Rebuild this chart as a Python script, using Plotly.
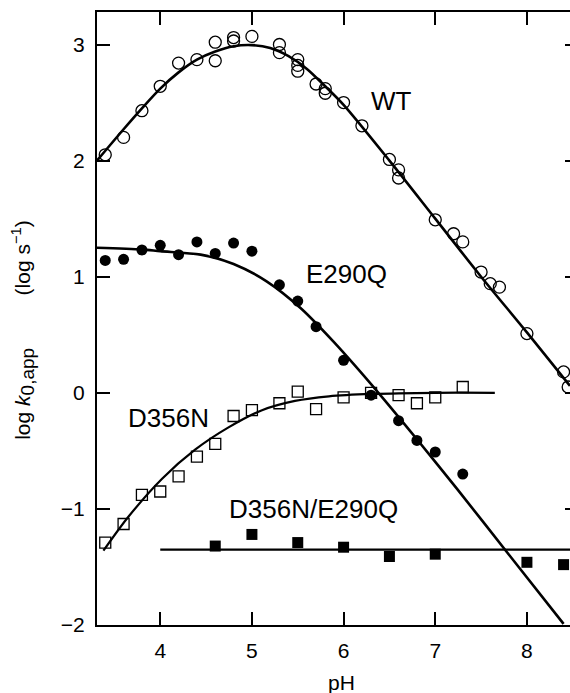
import plotly.graph_objects as go

# ---- data ----
wt_ph = [3.4, 3.6, 3.8, 4.0, 4.2, 4.4, 4.6, 4.6, 4.8, 4.8, 5.0, 5.3, 5.3, 5.5, 5.5, 5.5,
         5.7, 5.8, 5.8, 6.0, 6.2, 6.5, 6.6, 6.6, 7.0, 7.2, 7.3, 7.5, 7.6, 7.7, 8.0, 8.4, 8.45]
wt_log = [2.05, 2.20, 2.43, 2.64, 2.84, 2.87, 3.02, 2.86, 3.06, 3.03, 3.07, 3.00, 2.93, 2.87, 2.82, 2.77,
          2.66, 2.62, 2.58, 2.50, 2.30, 2.01, 1.92, 1.85, 1.49, 1.37, 1.30, 1.04, 0.94, 0.91, 0.51, 0.18, 0.05]

e290q_ph = [3.4, 3.6, 3.8, 4.0, 4.2, 4.4, 4.6, 4.8, 5.0, 5.3, 5.5, 5.7, 6.0, 6.3, 6.6, 6.8, 7.0, 7.3]
e290q_log = [1.14, 1.15, 1.23, 1.27, 1.19, 1.30, 1.20, 1.29, 1.22, 0.93, 0.79, 0.57, 0.28, -0.02,
             -0.24, -0.41, -0.51, -0.70]

d356n_ph = [3.4, 3.6, 3.8, 4.0, 4.2, 4.4, 4.6, 4.8, 5.0, 5.3, 5.5, 5.7, 6.0, 6.3, 6.6, 6.8, 7.0, 7.3]
d356n_log = [-1.29, -1.13, -0.88, -0.85, -0.72, -0.55, -0.44, -0.20, -0.15, -0.09, 0.01, -0.14,
             -0.04, 0.00, -0.02, -0.09, -0.04, 0.05]

dbl_ph = [4.6, 5.0, 5.5, 6.0, 6.5, 7.0, 8.0, 8.4]
dbl_log = [-1.32, -1.22, -1.29, -1.33, -1.41, -1.39, -1.46, -1.48]

# fitted curves
wt_fit_ph = [3.31, 3.6, 3.8, 4.0, 4.2, 4.4, 4.6, 4.8, 5.0, 5.2, 5.4, 5.6, 5.8, 6.0, 6.5, 7.0, 7.5, 8.0, 8.47]
wt_fit_log = [2.00, 2.27, 2.45, 2.62, 2.76, 2.87, 2.94, 2.985, 2.995, 2.97, 2.90, 2.79, 2.64, 2.48,
              2.00, 1.50, 1.00, 0.52, 0.06]

e290q_fit_ph = [3.31, 3.8, 4.0, 4.44, 4.8, 5.16, 5.53, 5.89, 6.38, 6.8, 7.24, 7.8, 8.4]
e290q_fit_log = [1.25, 1.235, 1.22, 1.19, 1.11, 0.96, 0.73, 0.44, 0.0, -0.40, -0.83, -1.39, -1.99]

d356n_fit_ph = [3.38, 3.65, 4.02, 4.38, 4.74, 5.11, 5.47, 5.84, 6.31, 7.0, 7.65]
d356n_fit_log = [-1.36, -1.07, -0.74, -0.49, -0.30, -0.15, -0.07, -0.03, -0.01, 0.0, 0.0]

dbl_fit_ph = [4.0, 8.47]
dbl_fit_log = [-1.35, -1.35]

x_ticks = [4, 5, 6, 7, 8]
y_ticks = [-2, -1, 0, 1, 2, 3]
y_ticktext = ["\u22122", "\u22121", "0", "1", "2", "3"]

labels = [("WT", 6.52, 2.51), ("E290Q", 6.03, 1.02), ("D356N", 4.09, -0.22), ("D356N/E290Q", 5.67, -1.0)]

FONT = "Liberation Sans, Arial, Helvetica, sans-serif"

fig = go.Figure()

line_style = dict(color="black", width=2.6)
for xs, ys in [(wt_fit_ph, wt_fit_log), (e290q_fit_ph, e290q_fit_log)]:
    fig.add_trace(go.Scatter(x=xs, y=ys, mode="lines", line=dict(line_style, shape="spline", smoothing=0.8),
                             showlegend=False, hoverinfo="skip"))
fig.add_trace(go.Scatter(x=d356n_fit_ph, y=d356n_fit_log, mode="lines",
                         line=dict(color="black", width=2.2, shape="spline", smoothing=0.8),
                         showlegend=False, hoverinfo="skip"))
fig.add_trace(go.Scatter(x=dbl_fit_ph, y=dbl_fit_log, mode="lines",
                         line=dict(color="black", width=2.2), showlegend=False, hoverinfo="skip"))

fig.add_trace(go.Scatter(x=wt_ph, y=wt_log, mode="markers",
                         marker=dict(symbol="circle-open", size=12, color="black", line=dict(width=1.3)),
                         showlegend=False))
fig.add_trace(go.Scatter(x=e290q_ph, y=e290q_log, mode="markers",
                         marker=dict(symbol="circle", size=11, color="black"), showlegend=False))
fig.add_trace(go.Scatter(x=d356n_ph, y=d356n_log, mode="markers",
                         marker=dict(symbol="square-open", size=11, color="black", line=dict(width=1.3)),
                         showlegend=False))
fig.add_trace(go.Scatter(x=dbl_ph, y=dbl_log, mode="markers",
                         marker=dict(symbol="square", size=11, color="black"), showlegend=False))

# helper trace for the right-hand tick axis
fig.add_trace(go.Scatter(x=[5], y=[0], yaxis="y2", mode="markers", marker=dict(size=0, opacity=0),
                         showlegend=False, hoverinfo="skip"))

for txt, x, y in labels:
    fig.add_annotation(x=x, y=y, text=txt, showarrow=False, xanchor="center", yanchor="middle",
                       font=dict(family=FONT, size=26, color="black"))

nb = "&nbsp;" * 9
fig.add_annotation(xref="paper", yref="paper", x=-0.158, y=0.482, textangle=-90,
                   text="log <i>k</i><sub><span style='font-size:19px'>0,app</span></sub>" + nb
                        + "(log s<sup>\u22121</sup>)",
                   showarrow=False, xanchor="center", yanchor="middle",
                   font=dict(family=FONT, size=21, color="black"))
fig.add_annotation(xref="paper", yref="paper", x=0.516, y=-0.0946, text="pH",
                   showarrow=False, xanchor="center", yanchor="middle",
                   font=dict(family=FONT, size=21, color="black"))

fig.update_layout(
    width=570, height=693,
    margin=dict(l=97, r=0, t=12, b=68),
    paper_bgcolor="white", plot_bgcolor="white",
    font=dict(family=FONT, size=21, color="black"),
    xaxis=dict(range=[3.31, 8.47], tickvals=x_ticks, ticks="inside", ticklen=13, tickwidth=2,
               tickcolor="black", showline=True, linewidth=2, linecolor="black", mirror="ticks",
               showgrid=False, zeroline=False, tickfont=dict(size=21), ticklabelstandoff=6),
    yaxis=dict(range=[-2, 3.28], tickvals=y_ticks, ticktext=y_ticktext, ticks="inside", ticklen=13,
               tickwidth=2, tickcolor="black", showline=True, linewidth=2, linecolor="black",
               showgrid=False, zeroline=False, tickfont=dict(size=21), ticklabelstandoff=6),
    yaxis2=dict(range=[-2, 3.28], overlaying="y", side="right", tickvals=y_ticks, ticks="inside",
                ticklen=5, tickwidth=2, tickcolor="black", showticklabels=False, showline=False,
                showgrid=False, zeroline=False),
)

fig.write_html("out.html", config={"displayModeBar": False},
               post_script="document.body.style.margin='0';")
